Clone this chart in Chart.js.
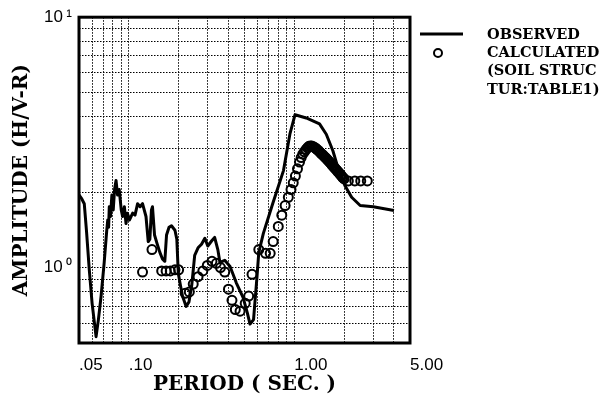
<!DOCTYPE html>
<html>
<head>
<meta charset="utf-8">
<script src="https://cdn.jsdelivr.net/npm/chart.js@4/dist/chart.umd.min.js"></script>
<style>
  html, body { margin: 0; padding: 0; background: #fff; }
  #wrap { width: 605px; height: 400px; }
</style>
</head>
<body>
<div id="wrap"><canvas id="c" width="605" height="400"></canvas></div>
<script>
// Observed H/V spectral ratio (period in seconds, amplitude)
const periodObs = [0.050, 0.052, 0.0538, 0.0555, 0.0577, 0.060, 0.062, 0.0634, 0.0655, 0.068,
  0.071, 0.0735, 0.0746, 0.0755, 0.0762, 0.0775, 0.079, 0.0805, 0.082, 0.0837,
  0.0855, 0.0875, 0.090, 0.0917, 0.094, 0.0962, 0.098, 0.101, 0.1055, 0.109,
  0.113, 0.117, 0.121, 0.127, 0.131, 0.134, 0.137, 0.139, 0.143, 0.148,
  0.154, 0.160, 0.165, 0.169, 0.175, 0.181, 0.190, 0.195, 0.199, 0.205,
  0.211, 0.222, 0.231, 0.240, 0.250, 0.262, 0.275, 0.288, 0.300, 0.317,
  0.330, 0.345, 0.355, 0.380, 0.409, 0.446, 0.490, 0.520, 0.540, 0.567,
  0.595, 0.610, 0.650, 0.740, 0.860, 0.940, 1.010, 1.180, 1.420, 1.560,
  1.710, 1.830, 2.020, 2.220, 2.500, 3.000, 4.000];
const ampObs = [1.95, 1.88, 1.80, 1.40, 0.98, 0.72, 0.60, 0.53, 0.62, 0.77,
  1.05, 1.40, 1.55, 1.45, 1.75, 1.60, 1.95, 1.70, 2.05, 2.23,
  1.95, 2.05, 1.70, 1.60, 1.75, 1.50, 1.65, 1.55, 1.65, 1.62,
  1.80, 1.75, 1.80, 1.60, 1.27, 1.30, 1.70, 1.75, 1.35, 1.25,
  1.15, 1.08, 1.06, 1.35, 1.45, 1.47, 1.41, 1.30, 0.95, 0.85,
  0.77, 0.70, 0.73, 0.85, 1.12, 1.20, 1.24, 1.31, 1.22, 1.28,
  1.32, 1.18, 1.05, 1.07, 1.01, 0.87, 0.76, 0.66, 0.595, 0.62,
  0.92, 1.15, 1.37, 1.80, 2.44, 3.41, 4.08, 3.96, 3.75, 3.41,
  2.93, 2.52, 2.13, 1.91, 1.77, 1.75, 1.69];

// Calculated ratio for the soil structure of Table 1
const periodCalc = [0.121, 0.138, 0.158, 0.168, 0.178, 0.190, 0.200, 0.219, 0.232, 0.245,
  0.262, 0.280, 0.298, 0.318, 0.338, 0.358, 0.380, 0.400, 0.420, 0.440,
  0.470, 0.505, 0.530, 0.555, 0.610, 0.670, 0.715, 0.745, 0.800, 0.840,
  0.880, 0.920, 0.955, 0.985, 1.015, 1.045, 1.075,
  1.100, 1.125, 1.150, 1.175, 1.200, 1.225, 1.250, 1.275, 1.300, 1.325,
  1.350, 1.375, 1.400, 1.425, 1.450, 1.475, 1.500, 1.525, 1.550, 1.575,
  1.600, 1.625, 1.650, 1.675, 1.700, 1.725, 1.750, 1.775, 1.800, 1.825,
  1.850, 1.875, 1.900, 1.925, 1.950, 1.975, 2.000,
  2.120, 2.320, 2.520, 2.760];
const ampCalc = [0.96, 1.18, 0.97, 0.97, 0.97, 0.98, 0.98, 0.79, 0.80, 0.86,
  0.92, 0.97, 1.02, 1.06, 1.04, 1.00, 0.96, 0.82, 0.74, 0.68,
  0.67, 0.72, 0.77, 0.94, 1.18, 1.14, 1.14, 1.27, 1.46, 1.62,
  1.77, 1.91, 2.05, 2.18, 2.32, 2.48, 2.64,
  2.75, 2.84, 2.90, 2.96, 3.01, 3.05, 3.06, 3.06, 3.04, 3.02,
  2.99, 2.96, 2.93, 2.89, 2.86, 2.83, 2.80, 2.77, 2.74, 2.71,
  2.68, 2.65, 2.62, 2.59, 2.56, 2.53, 2.50, 2.48, 2.45, 2.43,
  2.40, 2.38, 2.35, 2.33, 2.30, 2.28, 2.26,
  2.22, 2.22, 2.22, 2.22];

// Axis grid positions and the labelled ticks
const xGrid = [0.05, 0.06, 0.07, 0.08, 0.09, 0.1, 0.2, 0.3, 0.4, 0.5, 0.6, 0.7, 0.8, 0.9, 1, 2, 3, 4, 5];
const xLabelValues = [0.05, 0.1, 1, 5];
const xLabelTexts = ['.05', '.10', '1.00', '5.00'];
const yGrid = [0.5, 0.6, 0.7, 0.8, 0.9, 1, 2, 3, 4, 5, 6, 7, 8, 9, 10];
const yLabelValues = [1, 10];
const yLabelTexts = ['10\u2009\u2070', '10\u2009\u00b9'];

const legendObserved = 'OBSERVED';
const legendCalculated = ['CALCULATED', '(SOIL STRUC', 'TUR:TABLE1)'];

function labelFor(values, texts, v) {
  for (let i = 0; i < values.length; i++) {
    if (Math.abs(values[i] - v) < 1e-9 * Math.max(1, v)) return texts[i];
  }
  return '';
}

const INK = '#000';
const lineStyle = { width: 3 };
const markStyle = { radius: 4.5, width: 2 };

// Heavy frame round the plotting area
const framePlugin = {
  id: 'frame',
  afterDatasetsDraw(chart) {
    const { ctx, chartArea: a } = chart;
    ctx.save();
    ctx.strokeStyle = INK;
    ctx.lineWidth = 3;
    ctx.strokeRect(a.left, a.top, a.right - a.left, a.bottom - a.top);
    ctx.restore();
  }
};

// Key to the right of the frame
const keyPlugin = {
  id: 'key',
  afterDraw(chart) {
    const { ctx, chartArea: a } = chart;
    const x0 = a.right + 10;
    const tx = a.right + 77;
    ctx.save();
    ctx.strokeStyle = INK;
    ctx.fillStyle = INK;
    ctx.lineWidth = lineStyle.width;
    ctx.beginPath();
    ctx.moveTo(x0, 34);
    ctx.lineTo(x0 + 43, 34);
    ctx.stroke();
    ctx.lineWidth = markStyle.width;
    ctx.beginPath();
    ctx.arc(x0 + 18, 53, markStyle.radius - 0.5, 0, Math.PI * 2);
    ctx.stroke();
    ctx.font = 'bold 14.5px "DejaVu Serif"';
    ctx.textBaseline = 'middle';
    ctx.textAlign = 'left';
    ctx.fillText(legendObserved, tx, 35);
    legendCalculated.forEach((t, i) => ctx.fillText(t, tx, 53 + i * 18.5));
    ctx.restore();
  }
};

new Chart(document.getElementById('c'), {
  data: {
    datasets: [
      {
        type: 'line',
        label: legendObserved,
        data: periodObs.map((x, i) => ({ x, y: ampObs[i] })),
        borderColor: INK,
        borderWidth: lineStyle.width,
        borderJoinStyle: 'round',
        pointRadius: 0,
        fill: false,
        tension: 0
      },
      {
        type: 'scatter',
        label: legendCalculated.join(' '),
        data: periodCalc.map((x, i) => ({ x, y: ampCalc[i] })),
        pointStyle: 'circle',
        pointRadius: markStyle.radius,
        borderWidth: markStyle.width,
        borderColor: INK,
        backgroundColor: 'rgba(0,0,0,0)'
      }
    ]
  },
  options: {
    responsive: false,
    animation: false,
    devicePixelRatio: 1,
    layout: { padding: { top: 15, right: 195, bottom: 0, left: 0 } },
    plugins: { legend: { display: false }, tooltip: { enabled: false } },
    scales: {
      x: {
        type: 'logarithmic',
        position: 'bottom',
        min: 0.05,
        max: 5,
        afterBuildTicks: s => { s.ticks = xGrid.map(v => ({ value: v })); },
        afterFit: s => { s.height = 57; },
        ticks: {
          autoSkip: false,
          maxRotation: 0,
          minRotation: 0,
          align: 'start',
          padding: 12,
          color: INK,
          font: { family: '"Liberation Sans"', size: 17 },
          callback: v => labelFor(xLabelValues, xLabelTexts, v)
        },
        grid: { color: INK, lineWidth: 1, drawTicks: false },
        border: { display: false, dash: [1.5, 1.5] },
        title: {
          display: true,
          text: 'PERIOD ( SEC. )',
          color: INK,
          font: { family: '"DejaVu Serif"', weight: 'bold', size: 20 },
          padding: { top: 0, bottom: 3 }
        }
      },
      y: {
        type: 'logarithmic',
        position: 'left',
        min: 0.5,
        max: 10,
        afterBuildTicks: s => { s.ticks = yGrid.map(v => ({ value: v })); },
        afterFit: s => { s.width = 79; },
        ticks: {
          autoSkip: false,
          padding: 7,
          color: INK,
          font: { family: '"Liberation Sans"', size: 17 },
          callback: v => labelFor(yLabelValues, yLabelTexts, v)
        },
        grid: { color: INK, lineWidth: 1, drawTicks: false },
        border: { display: false, dash: [1.5, 1.5] },
        title: {
          display: true,
          text: 'AMPLITUDE (H/V-R)',
          color: INK,
          font: { family: '"DejaVu Serif"', weight: 'bold', size: 20 },
          padding: { top: 10, bottom: 0 }
        }
      }
    }
  },
  plugins: [framePlugin, keyPlugin]
});
</script>
</body>
</html>
